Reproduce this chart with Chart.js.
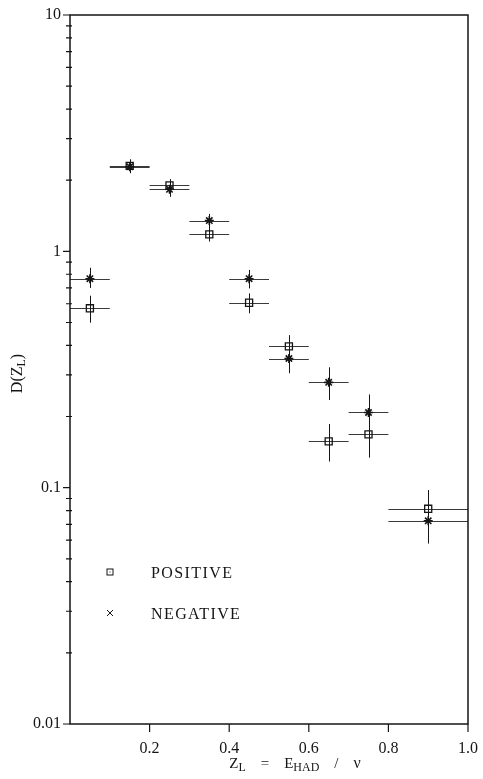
<!DOCTYPE html>
<html>
<head>
<meta charset="utf-8">
<script src="https://cdn.jsdelivr.net/npm/chart.js@4/dist/chart.umd.min.js"></script>
<style>
  html, body { margin: 0; padding: 0; background: #fff; }
</style>
</head>
<body>
<canvas id="chart" width="483" height="779"></canvas>
<script>
// z_L bins
const binCenters = [0.05, 0.15, 0.25, 0.35, 0.45, 0.55, 0.65, 0.75, 0.9];
const binLow = [0.0, 0.1, 0.2, 0.3, 0.4, 0.5, 0.6, 0.7, 0.8];
const binHigh = [0.1, 0.2, 0.3, 0.4, 0.5, 0.6, 0.7, 0.8, 1.0];

// D(z_L), positive hadrons
const positive = [0.574, 2.30, 1.90, 1.18, 0.606, 0.396, 0.157, 0.168, 0.0814];
const positiveLo = [0.499, 2.16, 1.72, 1.10, 0.547, 0.36, 0.129, 0.134, 0.068];
const positiveHi = [0.649, 2.45, 2.02, 1.26, 0.664, 0.442, 0.186, 0.19, 0.0977];

// D(z_L), negative hadrons
const negative = [0.766, 2.28, 1.83, 1.35, 0.766, 0.352, 0.279, 0.208, 0.0724];
const negativeLo = [0.70, 2.14, 1.70, 1.24, 0.697, 0.305, 0.235, 0.178, 0.058];
const negativeHi = [0.852, 2.44, 1.97, 1.44, 0.834, 0.39, 0.323, 0.248, 0.082];

const yMajor = [0.01, 0.1, 1, 10];
const xTicks = [0.2, 0.4, 0.6, 0.8, 1.0];

const SERIF = '"Liberation Serif", "DejaVu Serif", serif';
const INK = '#151515';

function points(vals) {
  return binCenters.map((x, i) => ({ x: x, y: vals[i] }));
}

// horizontal bin-width bars and vertical error bars
const errorBars = {
  id: 'errorBars',
  beforeDatasetsDraw(chart) {
    const { ctx, scales: { x, y } } = chart;
    const sets = [
      [positive, positiveLo, positiveHi],
      [negative, negativeLo, negativeHi]
    ];
    ctx.save();
    ctx.lineWidth = 1;
    sets.forEach(([vals, lo, hi]) => {
      vals.forEach((v, i) => {
        const py = Math.round(y.getPixelForValue(v)) + 0.5;
        const px = Math.round(x.getPixelForValue(binCenters[i])) + 0.5;
        ctx.strokeStyle = '#3a3a3a';
        ctx.beginPath();
        ctx.moveTo(x.getPixelForValue(binLow[i]), py);
        ctx.lineTo(x.getPixelForValue(binHigh[i]), py);
        ctx.stroke();
        ctx.strokeStyle = INK;
        ctx.beginPath();
        ctx.moveTo(px, y.getPixelForValue(lo[i]));
        ctx.lineTo(px, y.getPixelForValue(hi[i]));
        ctx.stroke();
      });
    });
    ctx.restore();
  }
};

// frame, tick marks, axis titles and legend
const decorations = {
  id: 'decorations',
  afterDraw(chart) {
    const { ctx, chartArea: a, scales: { x, y } } = chart;
    ctx.save();
    ctx.strokeStyle = INK;
    ctx.lineWidth = 1.5;
    ctx.strokeRect(a.left, a.top, a.right - a.left, a.bottom - a.top);

    ctx.lineWidth = 1.2;
    ctx.beginPath();
    for (let d = -2; d < 1; d++) {
      for (let m = 2; m <= 9; m++) {
        const py = y.getPixelForValue(m * Math.pow(10, d));
        ctx.moveTo(a.left - 4, py);
        ctx.lineTo(a.left + 2, py);
      }
    }
    yMajor.forEach(v => {
      const py = y.getPixelForValue(v);
      ctx.moveTo(a.left - 7, py);
      ctx.lineTo(a.left, py);
    });
    xTicks.forEach(v => {
      const px = x.getPixelForValue(v);
      ctx.moveTo(px, a.bottom);
      ctx.lineTo(px, a.bottom + 8);
    });
    ctx.stroke();

    ctx.fillStyle = INK;
    ctx.textBaseline = 'alphabetic';

    // y title: D(Z_L), rotated
    ctx.save();
    ctx.translate(22, (a.top + a.bottom) / 2 + 4);
    ctx.rotate(-Math.PI / 2);
    const yParts = [['D(Z', 16, 0], ['L', 12, 3], [')', 16, 0]];
    drawParts(ctx, yParts, 0, 0);
    ctx.restore();

    // x title: Z_L = E_HAD / nu
    const xParts = [
      ['Z', 15, 0], ['L', 12, 3], ['    =    ', 15, 0],
      ['E', 15, 0], ['HAD', 12, 3], ['    /    ', 15, 0], ['\u03bd', 16, 0]
    ];
    drawParts(ctx, xParts, (a.left + a.right) / 2 + 26, 768);

    // legend
    const lx = a.left + 40;
    const rows = [a.top + 557, a.top + 598];
    ctx.lineWidth = 1;
    ctx.strokeRect(lx - 3, rows[0] - 3, 6, 6);
    ctx.fillRect(lx - 0.5, rows[0] - 0.5, 1, 1);
    ctx.beginPath();
    ctx.moveTo(lx - 3, rows[1] - 3); ctx.lineTo(lx + 3, rows[1] + 3);
    ctx.moveTo(lx + 3, rows[1] - 3); ctx.lineTo(lx - 3, rows[1] + 3);
    ctx.stroke();
    ctx.font = '16px ' + SERIF;
    ctx.letterSpacing = '1.4px';
    ctx.textAlign = 'left';
    ctx.fillText('POSITIVE', lx + 41, rows[0] + 6);
    ctx.fillText('NEGATIVE', lx + 41, rows[1] + 6);
    ctx.restore();
  }
};

// draws a run of text pieces centred on (cx, baseline), with sub-scripted parts
function drawParts(ctx, parts, cx, base) {
  let total = 0;
  parts.forEach(([t, s]) => {
    ctx.font = s + 'px ' + SERIF;
    total += ctx.measureText(t).width;
  });
  let px = cx - total / 2;
  ctx.textAlign = 'left';
  parts.forEach(([t, s, dy]) => {
    ctx.font = s + 'px ' + SERIF;
    ctx.fillText(t, px, base + dy);
    px += ctx.measureText(t).width;
  });
}

new Chart(document.getElementById('chart'), {
  type: 'scatter',
  data: {
    datasets: [
      {
        label: 'POSITIVE',
        data: points(positive),
        pointStyle: 'rect',
        pointRadius: 5,
        borderColor: INK,
        backgroundColor: 'rgba(0,0,0,0)',
        borderWidth: 1.3
      },
      {
        label: 'NEGATIVE',
        data: points(negative),
        pointStyle: 'star',
        pointRadius: 4.5,
        borderColor: INK,
        backgroundColor: INK,
        borderWidth: 1.6
      }
    ]
  },
  options: {
    responsive: false,
    animation: false,
    devicePixelRatio: 1,
    layout: { padding: { top: 15, right: 15, left: 0, bottom: 0 } },
    plugins: { legend: { display: false }, tooltip: { enabled: false } },
    scales: {
      x: {
        type: 'linear',
        min: 0,
        max: 1,
        afterBuildTicks: s => { s.ticks = xTicks.map(v => ({ value: v })); },
        afterFit: s => { s.height = 55; s.paddingLeft = 0; s.paddingRight = 0; },
        grid: { display: false, drawTicks: false },
        border: { display: false },
        ticks: {
          callback: v => v.toFixed(1),
          font: { family: SERIF, size: 16 },
          color: INK,
          padding: 15,
          maxRotation: 0
        }
      },
      y: {
        type: 'logarithmic',
        min: 0.01,
        max: 10,
        afterBuildTicks: s => { s.ticks = yMajor.map(v => ({ value: v })); },
        afterFit: s => { s.width = 70; s.paddingTop = 0; s.paddingBottom = 0; },
        grid: { display: false, drawTicks: false },
        border: { display: false },
        ticks: {
          callback: v => String(v),
          font: { family: SERIF, size: 16 },
          color: INK,
          padding: 9
        }
      }
    }
  },
  plugins: [errorBars, decorations]
});
</script>
</body>
</html>
